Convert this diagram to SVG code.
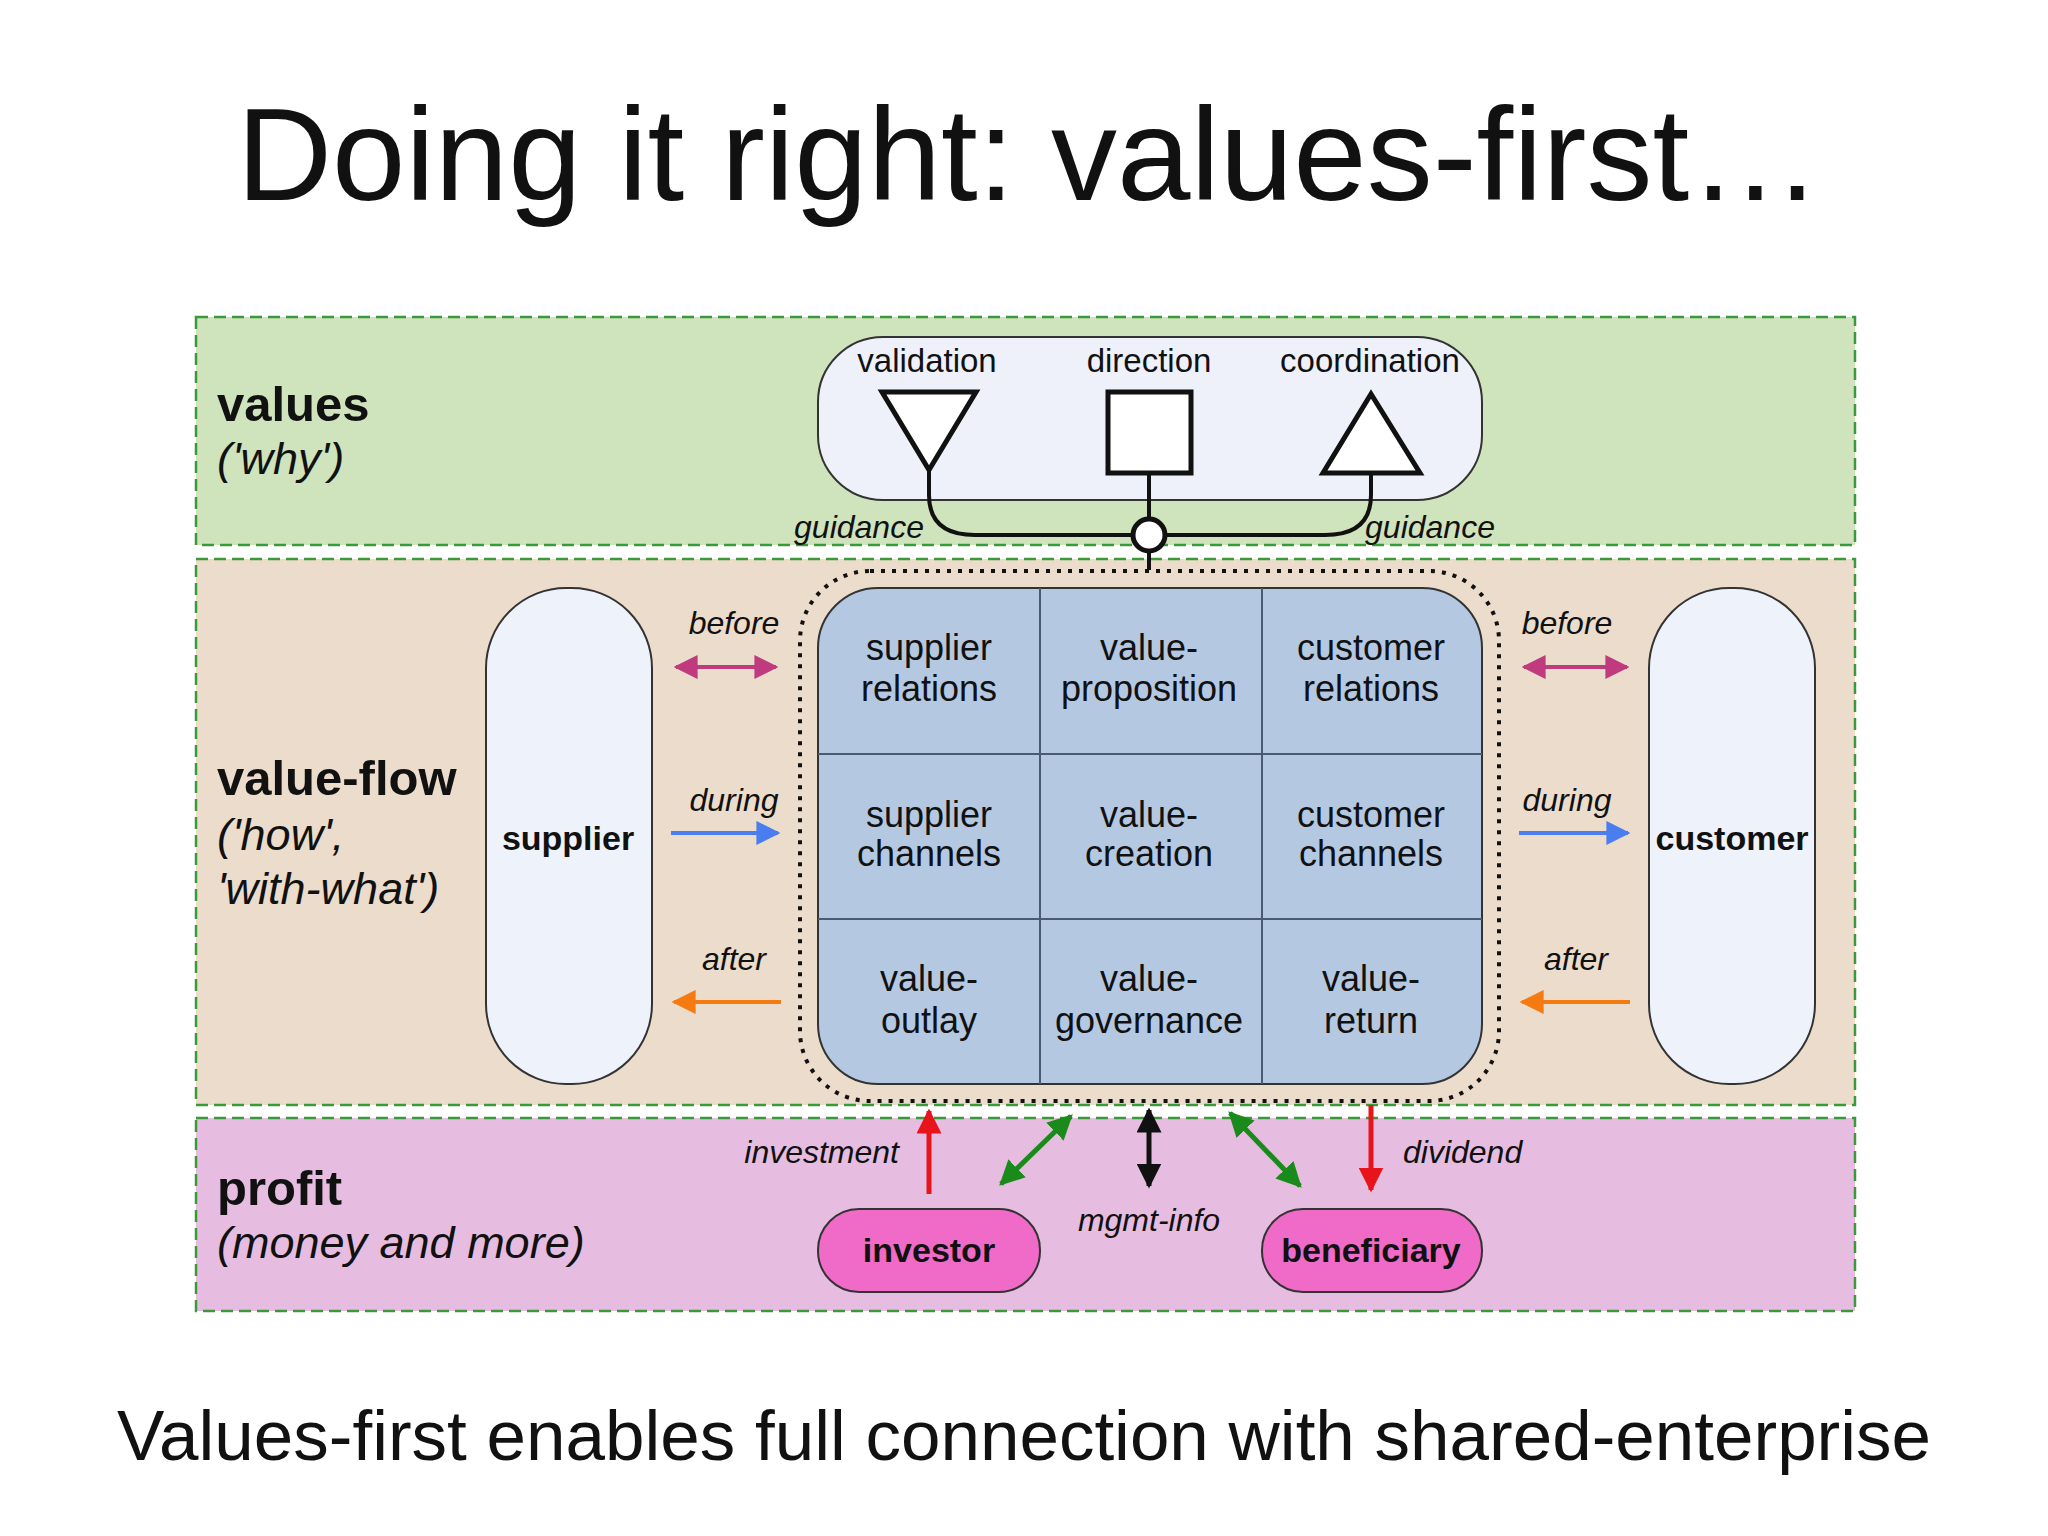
<svg xmlns="http://www.w3.org/2000/svg" width="2048" height="1536" viewBox="0 0 2048 1536">
<defs>
<style>
text{font-family:"Liberation Sans",Arial,sans-serif;fill:#111}
.band{stroke:#3a9a3a;stroke-width:2.5;stroke-dasharray:12 6}
.lbl{font-size:49px;font-weight:bold}
.sub{font-size:45px;font-style:italic}
.top{font-size:33px;text-anchor:middle}
.cell{font-size:36px;text-anchor:middle}
.it{font-size:32px;font-style:italic}
.pill{fill:#eef2fb;stroke:#333;stroke-width:2}
.pink{fill:#f06ac8;stroke:#333;stroke-width:2}
.b{font-size:34px;font-weight:bold;text-anchor:middle}
</style>
<marker id="mP" viewBox="0 0 10 10" refX="9" refY="5" markerWidth="6" markerHeight="6" orient="auto-start-reverse"><path d="M0,0L10,5L0,10z" fill="#c03a7e"/></marker>
<marker id="mB" viewBox="0 0 10 10" refX="9" refY="5" markerWidth="6" markerHeight="6" orient="auto-start-reverse"><path d="M0,0L10,5L0,10z" fill="#4a7df0"/></marker>
<marker id="mO" viewBox="0 0 10 10" refX="9" refY="5" markerWidth="6" markerHeight="6" orient="auto-start-reverse"><path d="M0,0L10,5L0,10z" fill="#f57a10"/></marker>
<marker id="mR" viewBox="0 0 10 10" refX="9" refY="5" markerWidth="5" markerHeight="5" orient="auto-start-reverse"><path d="M0,0L10,5L0,10z" fill="#e8141c"/></marker>
<marker id="mG" viewBox="0 0 10 10" refX="9" refY="5" markerWidth="5" markerHeight="5" orient="auto-start-reverse"><path d="M0,0L10,5L0,10z" fill="#1a8a1a"/></marker>
<marker id="mK" viewBox="0 0 10 10" refX="9" refY="5" markerWidth="5" markerHeight="5" orient="auto-start-reverse"><path d="M0,0L10,5L0,10z" fill="#111"/></marker>
</defs>
<rect width="2048" height="1536" fill="#fff"/>
<text x="1029" y="200" font-size="132" text-anchor="middle">Doing it right: values-first…</text>
<g id="bands">
<rect class="band" x="196" y="317" width="1659" height="228" fill="#cfe3bd"/>
<rect class="band" x="196" y="559" width="1659" height="546" fill="#ecdccb"/>
<rect class="band" x="196" y="1118" width="1659" height="193" fill="#e6bde0"/>
<text class="lbl" x="217" y="421">values</text>
<text class="sub" x="217" y="474">('why')</text>
<text class="lbl" x="217" y="795">value-flow</text>
<text class="sub" x="217" y="850">('how',</text>
<text class="sub" x="217" y="904">'with-what')</text>
<text class="lbl" x="217" y="1205">profit</text>
<text class="sub" x="217" y="1258">(money and more)</text>
</g>
<g id="values-box">
<rect x="818" y="337" width="664" height="163" rx="65" fill="#eef0fa" stroke="#333" stroke-width="2"/>
<text class="top" x="927" y="372">validation</text>
<text class="top" x="1149" y="372">direction</text>
<text class="top" x="1370" y="372">coordination</text>
<polygon points="882,392 976,392 929,470" fill="#fff" stroke="#111" stroke-width="5"/>
<rect x="1108" y="392" width="83" height="81" fill="#fff" stroke="#111" stroke-width="5"/>
<polygon points="1323,473 1420,473 1371,394" fill="#fff" stroke="#111" stroke-width="5"/>
</g>
<g id="connectors">
<path d="M929,470 V495 Q929,535 975,535 H1133" fill="none" stroke="#111" stroke-width="4"/>
<path d="M1371,473 V495 Q1371,535 1325,535 H1165" fill="none" stroke="#111" stroke-width="4"/>
<path d="M1149,473 V519 M1149,551 V570" fill="none" stroke="#111" stroke-width="4"/>
<circle cx="1149" cy="535" r="16" fill="#fff" stroke="#111" stroke-width="5"/>
<text class="it" x="859" y="538" text-anchor="middle">guidance</text>
<text class="it" x="1430" y="538" text-anchor="middle">guidance</text>
<line x1="676" y1="667" x2="776" y2="667" stroke="#c03a7e" stroke-width="4" marker-start="url(#mP)" marker-end="url(#mP)"/>
<line x1="671" y1="833" x2="778" y2="833" stroke="#4a7df0" stroke-width="4" marker-end="url(#mB)"/>
<line x1="781" y1="1002" x2="674" y2="1002" stroke="#f57a10" stroke-width="4" marker-end="url(#mO)"/>
<line x1="1524" y1="667" x2="1627" y2="667" stroke="#c03a7e" stroke-width="4" marker-start="url(#mP)" marker-end="url(#mP)"/>
<line x1="1519" y1="833" x2="1628" y2="833" stroke="#4a7df0" stroke-width="4" marker-end="url(#mB)"/>
<line x1="1630" y1="1002" x2="1522" y2="1002" stroke="#f57a10" stroke-width="4" marker-end="url(#mO)"/>
<text class="it" x="734" y="634" text-anchor="middle">before</text>
<text class="it" x="734" y="811" text-anchor="middle">during</text>
<text class="it" x="734" y="970" text-anchor="middle">after</text>
<text class="it" x="1567" y="634" text-anchor="middle">before</text>
<text class="it" x="1567" y="811" text-anchor="middle">during</text>
<text class="it" x="1576" y="970" text-anchor="middle">after</text>
<line x1="929" y1="1194" x2="929" y2="1111" stroke="#e8141c" stroke-width="5" marker-end="url(#mR)"/>
<line x1="1001" y1="1184" x2="1071" y2="1116" stroke="#1a8a1a" stroke-width="5" marker-start="url(#mG)" marker-end="url(#mG)"/>
<line x1="1149" y1="1110" x2="1149" y2="1186" stroke="#111" stroke-width="5" marker-start="url(#mK)" marker-end="url(#mK)"/>
<line x1="1230" y1="1113" x2="1300" y2="1186" stroke="#1a8a1a" stroke-width="5" marker-start="url(#mG)" marker-end="url(#mG)"/>
<line x1="1371" y1="1105" x2="1371" y2="1190" stroke="#e8141c" stroke-width="5" marker-end="url(#mR)"/>
<text class="it" x="899" y="1163" text-anchor="end">investment</text>
<text class="it" x="1149" y="1231" text-anchor="middle">mgmt-info</text>
<text class="it" x="1403" y="1163">dividend</text>
</g>
<g id="core">
<rect x="800" y="571" width="699" height="530" rx="70" fill="none" stroke="#111" stroke-width="4" stroke-dasharray="4 7"/>
<rect x="818" y="588" width="664" height="496" rx="60" fill="#b4c8e2" stroke="#333" stroke-width="2"/>
<path d="M1040,588V1084M1262,588V1084M818,754H1482M818,919H1482" stroke="#4a5a70" stroke-width="2"/>
<text class="cell" x="929" y="660">supplier</text><text class="cell" x="929" y="701">relations</text>
<text class="cell" x="1149" y="660">value-</text><text class="cell" x="1149" y="701">proposition</text>
<text class="cell" x="1371" y="660">customer</text><text class="cell" x="1371" y="701">relations</text>
<text class="cell" x="929" y="827">supplier</text><text class="cell" x="929" y="866">channels</text>
<text class="cell" x="1149" y="827">value-</text><text class="cell" x="1149" y="866">creation</text>
<text class="cell" x="1371" y="827">customer</text><text class="cell" x="1371" y="866">channels</text>
<text class="cell" x="929" y="991">value-</text><text class="cell" x="929" y="1033">outlay</text>
<text class="cell" x="1149" y="991">value-</text><text class="cell" x="1149" y="1033">governance</text>
<text class="cell" x="1371" y="991">value-</text><text class="cell" x="1371" y="1033">return</text>
</g>
<g id="supplier"><rect class="pill" x="486" y="588" width="166" height="496" rx="80"/><text class="b" x="568" y="850">supplier</text></g>
<g id="customer"><rect class="pill" x="1649" y="588" width="166" height="496" rx="80"/><text class="b" x="1732" y="850">customer</text></g>
<g id="investor"><rect class="pink" x="818" y="1209" width="222" height="83" rx="41"/><text class="b" x="929" y="1262">investor</text></g>
<g id="beneficiary"><rect class="pink" x="1262" y="1209" width="220" height="83" rx="41"/><text class="b" x="1371" y="1262">beneficiary</text></g>
<text x="1024" y="1460" font-size="71" text-anchor="middle">Values-first enables full connection with shared-enterprise</text>
</svg>
